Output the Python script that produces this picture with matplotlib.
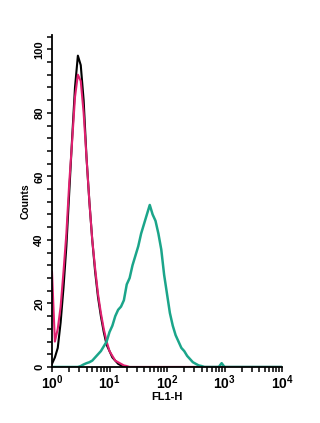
import numpy as np
import matplotlib
matplotlib.use("Agg")
import matplotlib.pyplot as plt
from matplotlib.ticker import MultipleLocator, LogLocator

plt.rcParams['font.family'] = ['Liberation Sans', 'DejaVu Sans']
plt.rcParams['font.weight'] = 'bold'
plt.rcParams['mathtext.fontset'] = 'custom'
plt.rcParams['mathtext.rm'] = 'Liberation Sans:bold'
plt.rcParams['mathtext.it'] = 'Liberation Sans:bold'
plt.rcParams['mathtext.bf'] = 'Liberation Sans:bold'

# FL1-H channels (log10 of intensity), 0.05 decade bins
log_fl1 = np.round(np.arange(0, 4.001, 0.05), 2)

# counts per channel
black = [1, 3, 6, 14, 25, 38, 55, 72, 88, 98,
         95, 84, 66, 52, 40, 30, 22, 16, 11, 7,
         5, 3, 2, 1, 0.5, 0, 0, 0, 0, 0,
         0, 0, 0, 0, 0, 0, 0, 0, 0, 0,
         0, 0, 0, 0, 0, 0, 0, 0, 0, 0,
         0, 0, 0, 0, 0, 0, 0, 0, 0, 0,
         0, 0, 0, 0, 0, 0, 0, 0, 0, 0,
         0, 0, 0, 0, 0, 0, 0, 0, 0, 0, 0]

pink = [30, 8, 12, 19, 30, 42, 58, 71, 85, 92,
        90, 80, 66, 52, 40, 31, 23, 17, 12, 8,
        5, 3.5, 2, 1.5, 1, 0.5, 0.3, 0, 0, 0,
        0, 0, 0, 0, 0, 0, 0, 0, 0, 0,
        0, 0, 0, 0, 0, 0, 0, 0, 0, 0,
        0, 0, 0, 0, 0, 0, 0, 0, 0, 0,
        0, 0, 0, 0, 0, 0, 0, 0, 0, 0,
        0, 0, 0, 0, 0, 0, 0, 0, 0, 0, 0]

teal = [0, 0, 0, 0, 0, 0, 0, 0, 0, 0,
        0.3, 0.8, 1.2, 1.5, 2, 3, 4, 5, 6.5, 8,
        11, 13, 16, 18, 19, 21, 26, 28, 32, 35,
        38, 42, 45, 48, 51, 48, 46, 42, 37, 29,
        23, 17, 13, 10, 8, 6, 5, 3.5, 2.5, 1.5,
        1, 0.5, 0.3, 0, 0, 0, 0, 0, 0, 1.2,
        0, 0, 0, 0, 0, 0, 0, 0, 0, 0,
        0, 0, 0, 0, 0, 0, 0, 0, 0, 0, 0]

fl1 = 10 ** log_fl1

fig = plt.figure(figsize=(3.2, 4.23), dpi=100)
ax = fig.add_axes([0.1625, 0.1324, 0.7188, 0.7849])

ax.plot(fl1, black, color='black', lw=1.5)
ax.plot(fl1, pink, color='#e0206f', lw=1.5)
ax.plot(fl1, teal, color='#1ba58a', lw=1.8)

ax.set_xscale('log')
ax.set_xlim(1, 1e4)
ax.set_ylim(0, 104.5)

ax.yaxis.set_major_locator(MultipleLocator(20))
ax.yaxis.set_minor_locator(MultipleLocator(4))
ax.xaxis.set_minor_locator(LogLocator(subs=np.arange(2, 10)))

for s in ['top', 'right']:
    ax.spines[s].set_visible(False)
for s in ['left', 'bottom']:
    ax.spines[s].set_linewidth(1.3)

ax.tick_params(which='both', direction='out', width=1.1, length=3.5)
ax.tick_params(axis='y', labelsize=8, rotation=90, pad=2)
ax.tick_params(axis='x', labelsize=10, pad=1)
for t in ax.get_yticklabels():
    t.set_va('center')

ax.set_ylabel('Counts', fontsize=7.5, fontweight='bold', labelpad=3)
ax.set_xlabel('FL1-H', fontsize=8, fontweight='bold', labelpad=0)

fig.savefig('out.png', dpi=100)
